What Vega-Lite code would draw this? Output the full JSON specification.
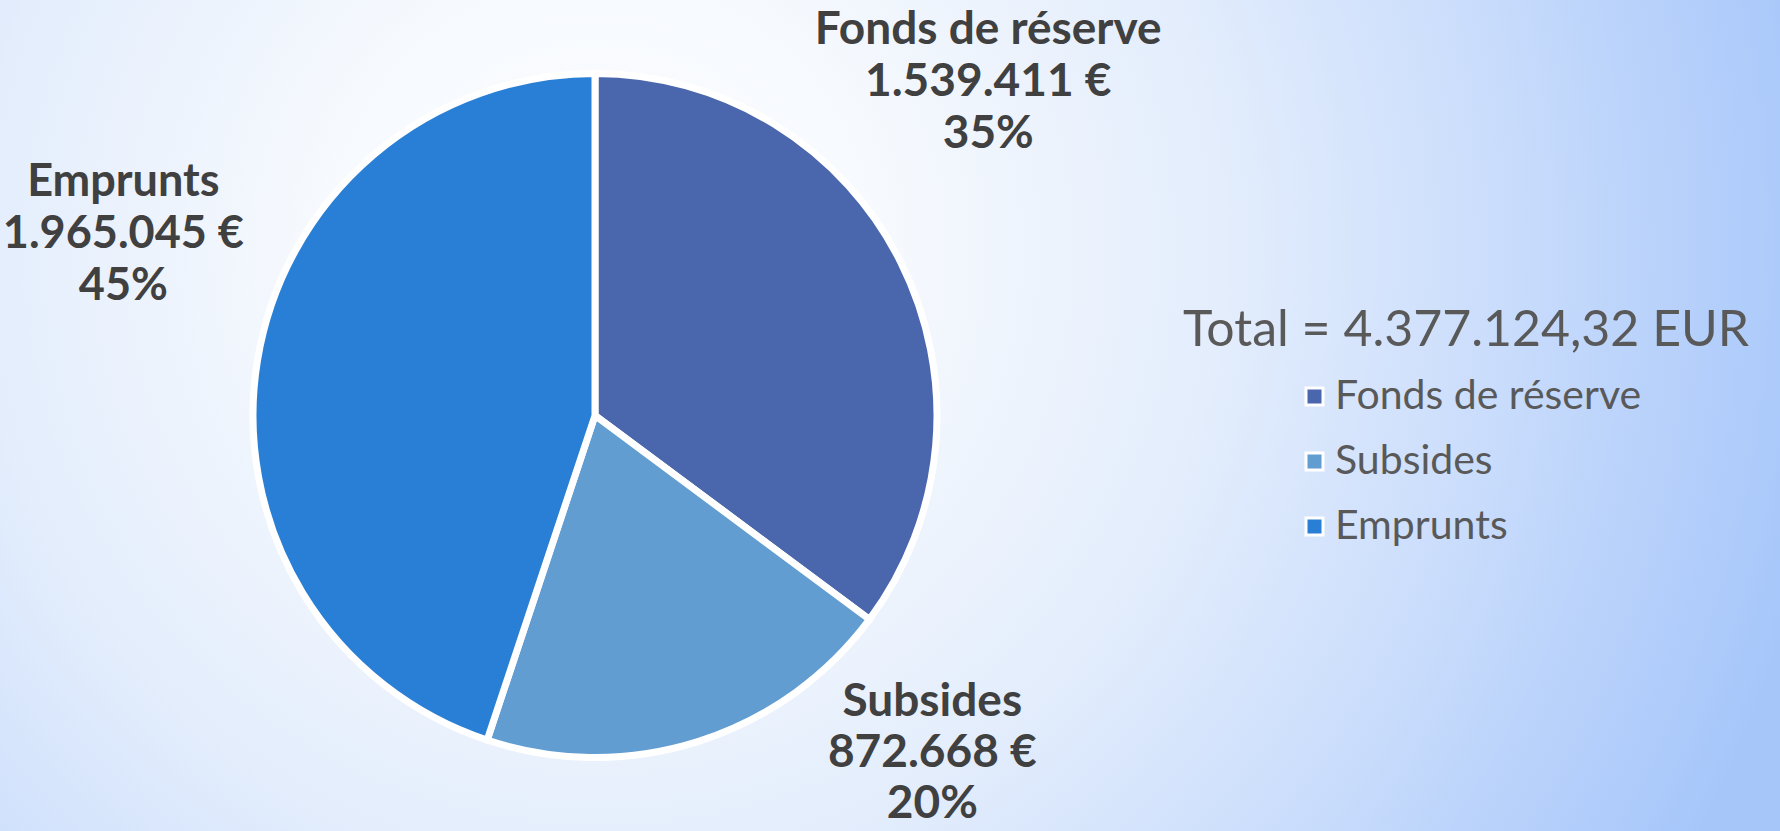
{
  "$schema": "https://vega.github.io/schema/vega-lite/v6.json",
  "padding": 0,
  "spacing": 0,
  "bounds": "flush",
  "background": "#e0ebfc",
  "config": {"view": {"stroke": null}, "font": "Lato"},
  "hconcat": [
    {
      "width": 1190,
      "height": 831,
      "view": {
        "stroke": null,
        "fill": {
          "gradient": "radial",
          "x1": 0.5042, "y1": 0.3609, "r1": 0,
          "x2": 0.5042, "y2": 0.3609, "r2": 1.047,
          "stops": [
            {"offset": 0, "color": "#fbfcff"},
            {"offset": 0.214, "color": "#f7fafe"},
            {"offset": 0.5, "color": "#e3edfc"},
            {"offset": 0.657, "color": "#d2e2fc"},
            {"offset": 1, "color": "#a6c6fa"}
          ]
        }
      },
      "data": {
        "values": [
          {"category": "Fonds de réserve", "value": 1539411, "ord": 1, "label": "Fonds de réserve\n1.539.411 €\n35%"},
          {"category": "Subsides", "value": 872668, "ord": 2, "label": "Subsides\n872.668 €\n20%"},
          {"category": "Emprunts", "value": 1965045, "ord": 3, "label": "Emprunts\n1.965.045 €\n45%"}
        ]
      },
      "encoding": {
        "theta": {"field": "value", "type": "quantitative", "stack": true},
        "order": {"field": "ord", "type": "quantitative"}
      },
      "layer": [
        {
          "mark": {"type": "arc", "outerRadius": 342, "stroke": "white", "strokeWidth": 7},
          "encoding": {
            "color": {
              "field": "category",
              "type": "nominal",
              "scale": {
                "domain": ["Fonds de réserve", "Subsides", "Emprunts"],
                "range": ["#4a66ac", "#629dd1", "#297fd5"]
              },
              "legend": {
                "orient": "none",
                "legendX": 1294,
                "legendY": 376,
                "direction": "vertical",
                "title": null,
                "symbolType": "square",
                "symbolSize": 289,
                "symbolStrokeColor": "white",
                "symbolStrokeWidth": 3,
                "symbolOpacity": 1,
                "labelFont": "Lato",
                "labelFontSize": 41,
                "labelLimit": 500,
                "labelColor": "#595959",
                "labelOffset": 0,
                "rowPadding": 23
              }
            }
          }
        },
        {
          "mark": {"type": "text", "radius": 420, "dx": 18, "dy": -197, "lineBreak": "\n", "align": "center", "baseline": "middle", "font": "Lato", "fontWeight": "bold", "fontSize": 46, "lineHeight": 52, "color": "#404040"},
          "encoding": {"text": {"condition": {"test": "datum.category === 'Fonds de réserve'", "field": "label", "type": "nominal"}, "value": ""}}
        },
        {
          "mark": {"type": "text", "radius": 420, "dx": 211, "dy": -114, "lineBreak": "\n", "align": "center", "baseline": "middle", "font": "Lato", "fontWeight": "bold", "fontSize": 46, "lineHeight": 51, "color": "#404040"},
          "encoding": {"text": {"condition": {"test": "datum.category === 'Subsides'", "field": "label", "type": "nominal"}, "value": ""}}
        },
        {
          "mark": {"type": "text", "radius": 420, "dx": -57, "dy": -166, "lineBreak": "\n", "align": "center", "baseline": "middle", "font": "Lato", "fontWeight": "bold", "fontSize": 45, "lineHeight": 52, "color": "#404040"},
          "encoding": {"text": {"condition": {"test": "datum.category === 'Emprunts'", "field": "label", "type": "nominal"}, "value": ""}}
        }
      ]
    },
    {
      "width": 590,
      "height": 831,
      "view": {
        "stroke": null,
        "fill": {
          "gradient": "radial",
          "x1": -0.565, "y1": 0.3008, "r1": 0,
          "x2": -0.565, "y2": 0.3008, "r2": 1.4994,
          "stops": [
            {"offset": 0, "color": "#fbfcff"},
            {"offset": 0.214, "color": "#f7fafe"},
            {"offset": 0.5, "color": "#e3edfc"},
            {"offset": 0.657, "color": "#d2e2fc"},
            {"offset": 1, "color": "#a6c6fa"}
          ]
        }
      },
      "data": {"values": [{"t": "Total = 4.377.124,32 EUR"}]},
      "mark": {"type": "text", "dx": -19, "dy": -70, "align": "center", "baseline": "alphabetic", "font": "Lato", "fontSize": 50, "color": "#595959"},
      "encoding": {"text": {"field": "t", "type": "nominal"}}
    }
  ]
}
